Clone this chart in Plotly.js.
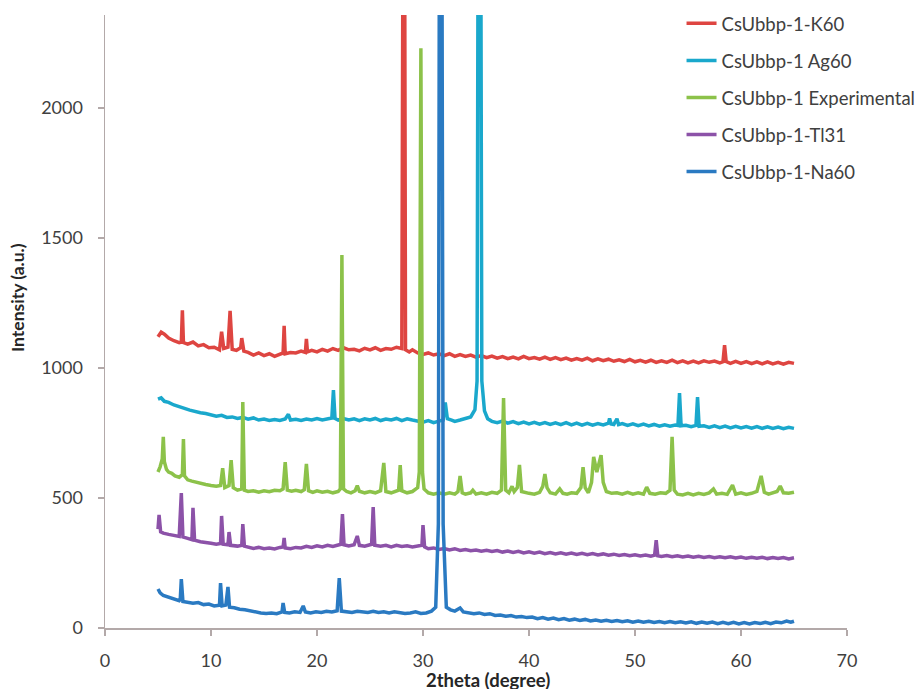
<!DOCTYPE html>
<html>
<head>
<meta charset="utf-8">
<script src="https://cdn.plot.ly/plotly-3.0.1.min.js"></script>
<style>html,body{margin:0;padding:0;background:#fff;}#chart{width:916px;height:689px;}</style>
</head>
<body>
<div id="chart"></div>
<script>
// Series names
const seriesNames = ["CsUbbp-1-K60", "CsUbbp-1 Ag60", "CsUbbp-1 Experimental", "CsUbbp-1-Tl31", "CsUbbp-1-Na60"];

// [2theta, intensity] pairs
const k60 = [[5.0,1120],[5.3,1138],[5.6,1130],[6.0,1115],[6.5,1105],[7.0,1098],[7.2,1100],[7.3,1222],[7.4,1098],[7.8,1092],[8.3,1100],[8.8,1085],[9.3,1090],[9.8,1078],[10.3,1080],[10.8,1070],[11.0,1140],[11.2,1075],[11.6,1080],[11.8,1220],[12.0,1072],[12.4,1068],[12.8,1078],[12.9,1115],[13.1,1065],[13.5,1060],[14.0,1050],[14.5,1058],[15.0,1048],[15.5,1055],[16.0,1045],[16.5,1055],[16.8,1058],[16.9,1162],[17.0,1055],[17.5,1060],[18.0,1058],[18.5,1065],[18.9,1060],[19.0,1112],[19.1,1062],[19.5,1068],[20.0,1062],[20.5,1072],[21.0,1065],[21.5,1075],[22.0,1068],[22.5,1078],[23.0,1070],[23.5,1072],[24.0,1066],[24.5,1076],[25.0,1070],[25.5,1078],[26.0,1068],[26.5,1075],[27.0,1072],[27.5,1080],[28.0,1075],[28.2,4000],[28.35,1070],[28.7,1062],[29.0,1070],[29.5,1058],[30.0,1052],[30.5,1058],[31.0,1050],[31.5,1055],[32.0,1048],[32.5,1055],[33.0,1045],[33.5,1052],[34.0,1045],[34.5,1050],[35.0,1042],[35.5,1048],[36.0,1040],[36.5,1046],[37.0,1038],[37.5,1044],[38.0,1036],[38.5,1042],[39.0,1035],[39.5,1045],[40.0,1036],[40.5,1040],[41.0,1034],[41.5,1042],[42.0,1033],[42.5,1040],[43.0,1032],[43.5,1038],[44.0,1030],[44.5,1036],[45.0,1030],[45.5,1038],[46.0,1028],[46.5,1035],[47.0,1028],[47.5,1034],[48.0,1026],[48.5,1032],[49.0,1025],[49.5,1033],[50.0,1024],[50.5,1030],[51.0,1023],[51.5,1030],[52.0,1022],[52.5,1028],[53.0,1022],[53.5,1030],[54.0,1021],[54.5,1028],[55.0,1020],[55.5,1027],[56.0,1020],[56.5,1028],[57.0,1022],[57.5,1027],[58.0,1020],[58.3,1024],[58.45,1088],[58.6,1025],[59.0,1018],[59.5,1026],[60.0,1018],[60.5,1025],[61.0,1017],[61.5,1024],[62.0,1016],[62.5,1024],[63.0,1016],[63.5,1022],[64.0,1015],[64.5,1022],[65.0,1018]];

const ag60 = [[5.0,880],[5.3,885],[5.6,872],[6.0,868],[6.5,858],[7.0,850],[7.5,845],[8.0,838],[8.5,832],[9.0,828],[9.5,825],[10.0,820],[10.5,815],[11.0,818],[11.5,810],[12.0,812],[12.5,806],[13.0,810],[13.5,803],[14.0,808],[14.5,800],[15.0,804],[15.5,798],[16.0,802],[16.5,798],[17.0,804],[17.3,822],[17.5,800],[18.0,803],[18.5,798],[19.0,804],[19.5,800],[20.0,806],[20.5,800],[21.0,805],[21.4,808],[21.55,915],[21.7,806],[22.0,800],[22.5,806],[23.0,800],[23.5,805],[24.0,798],[24.5,805],[25.0,800],[25.5,806],[26.0,798],[26.5,804],[27.0,800],[27.5,806],[28.0,798],[28.5,805],[29.0,800],[29.5,795],[30.0,792],[30.5,798],[31.0,790],[31.5,796],[31.9,800],[32.1,868],[32.3,805],[32.7,800],[33.0,795],[33.5,800],[34.0,805],[34.5,812],[34.9,840],[35.1,950],[35.27,4000],[35.38,4000],[35.55,950],[35.8,835],[36.1,805],[36.5,795],[37.0,790],[37.5,796],[38.0,788],[38.5,794],[39.0,786],[39.5,792],[40.0,785],[40.5,791],[41.0,784],[41.5,790],[42.0,783],[42.5,789],[43.0,782],[43.5,790],[44.0,781],[44.5,788],[45.0,780],[45.5,787],[46.0,780],[46.5,786],[47.0,781],[47.5,788],[47.6,806],[47.75,785],[48.0,783],[48.3,805],[48.45,782],[48.8,786],[49.3,779],[49.8,785],[50.3,778],[50.8,784],[51.3,777],[51.8,783],[52.3,776],[52.8,782],[53.3,776],[53.8,781],[54.05,779],[54.2,904],[54.35,778],[54.8,780],[55.3,774],[55.75,779],[55.9,888],[56.05,776],[56.5,778],[57.0,772],[57.5,778],[58.0,771],[58.5,777],[59.0,770],[59.5,776],[60.0,770],[60.5,775],[61.0,769],[61.5,775],[62.0,768],[62.5,774],[63.0,768],[63.5,773],[64.0,767],[64.5,772],[65.0,768]];

const experimental = [[5.0,600],[5.2,620],[5.4,650],[5.5,735],[5.6,640],[5.8,610],[6.0,600],[6.3,595],[6.6,585],[7.0,580],[7.3,590],[7.4,727],[7.5,585],[7.8,570],[8.2,565],[8.6,560],[9.0,555],[9.5,552],[10.0,548],[10.5,545],[10.9,548],[11.1,615],[11.3,540],[11.7,548],[11.9,646],[12.1,540],[12.5,530],[12.9,535],[13.0,869],[13.15,530],[13.5,525],[14.0,528],[14.5,522],[15.0,528],[15.5,524],[16.0,530],[16.5,528],[16.8,535],[17.0,638],[17.2,530],[17.6,526],[18.0,530],[18.5,525],[18.8,532],[19.0,631],[19.2,528],[19.6,522],[20.0,528],[20.5,522],[21.0,526],[21.5,520],[22.0,525],[22.2,535],[22.35,1435],[22.5,535],[22.8,525],[23.2,520],[23.6,528],[23.8,548],[24.0,526],[24.5,520],[25.0,525],[25.5,520],[26.0,528],[26.3,635],[26.5,525],[27.0,520],[27.5,525],[27.7,530],[27.85,627],[28.0,528],[28.5,520],[29.0,525],[29.5,540],[29.65,600],[29.8,2230],[29.95,600],[30.1,535],[30.5,520],[31.0,515],[31.5,520],[32.0,515],[32.5,520],[33.0,515],[33.3,525],[33.5,585],[33.7,520],[34.0,515],[34.5,520],[34.7,530],[35.0,515],[35.5,520],[36.0,515],[36.5,522],[37.0,518],[37.4,530],[37.6,885],[37.8,530],[38.1,520],[38.4,545],[38.6,525],[38.9,540],[39.1,627],[39.3,525],[39.7,520],[40.0,518],[40.5,515],[41.0,522],[41.3,545],[41.5,592],[41.7,540],[42.0,520],[42.5,515],[42.9,535],[43.2,518],[43.6,515],[44.0,520],[44.5,518],[44.9,540],[45.1,619],[45.3,540],[45.6,520],[45.9,560],[46.1,658],[46.4,600],[46.8,665],[47.0,560],[47.3,525],[47.8,518],[48.3,520],[48.8,515],[49.3,522],[49.8,515],[50.3,520],[50.8,515],[51.1,542],[51.4,518],[51.9,515],[52.4,520],[52.9,518],[53.3,530],[53.5,735],[53.7,530],[54.0,515],[54.5,512],[55.0,518],[55.5,512],[56.0,518],[56.5,514],[57.0,520],[57.4,535],[57.7,515],[58.2,518],[58.7,514],[59.2,550],[59.5,515],[60.0,520],[60.5,514],[61.0,518],[61.5,525],[61.9,585],[62.2,522],[62.6,515],[63.0,520],[63.4,525],[63.7,546],[64.0,520],[64.5,518],[65.0,522]];

const tl31 = [[5.0,380],[5.1,435],[5.25,370],[5.5,365],[6.0,360],[6.5,355],[7.0,352],[7.2,519],[7.35,350],[7.8,345],[8.2,340],[8.3,462],[8.45,338],[9.0,332],[9.5,330],[10.0,326],[10.5,322],[10.9,325],[11.0,431],[11.15,322],[11.6,320],[11.7,369],[11.85,318],[12.5,315],[12.9,318],[13.0,400],[13.15,315],[13.5,310],[14.0,306],[14.5,310],[15.0,305],[15.5,308],[16.0,304],[16.5,310],[16.8,312],[16.9,346],[17.0,308],[17.5,305],[18.0,310],[18.5,308],[19.0,314],[19.5,310],[20.0,316],[20.5,312],[21.0,318],[21.5,314],[22.0,318],[22.25,322],[22.4,438],[22.55,320],[23.0,316],[23.5,320],[23.8,354],[24.0,318],[24.5,315],[25.0,320],[25.15,322],[25.3,465],[25.45,318],[26.0,315],[26.5,318],[27.0,312],[27.5,318],[28.0,314],[28.5,316],[29.0,312],[29.5,316],[29.9,318],[30.0,396],[30.15,312],[30.5,305],[31.0,308],[31.5,302],[32.0,306],[32.5,300],[33.0,305],[33.5,298],[34.0,302],[34.5,297],[35.0,300],[35.5,295],[36.0,299],[36.5,294],[37.0,298],[37.5,292],[38.0,296],[38.5,291],[39.0,295],[39.5,289],[40.0,293],[40.5,288],[41.0,292],[41.5,286],[42.0,290],[42.5,285],[43.0,289],[43.5,284],[44.0,288],[44.5,283],[45.0,287],[45.5,282],[46.0,286],[46.5,281],[47.0,285],[47.5,280],[48.0,284],[48.5,279],[49.0,283],[49.5,278],[50.0,282],[50.5,277],[51.0,281],[51.5,276],[51.85,280],[52.0,338],[52.15,278],[52.5,275],[53.0,279],[53.5,274],[54.0,278],[54.5,273],[55.0,277],[55.5,272],[56.0,276],[56.5,271],[57.0,275],[57.5,270],[58.0,274],[58.5,270],[59.0,274],[59.5,269],[60.0,273],[60.5,268],[61.0,272],[61.5,268],[62.0,272],[62.5,267],[63.0,271],[63.5,267],[64.0,271],[64.5,266],[65.0,270]];

const na60 = [[5.0,150],[5.2,135],[5.5,125],[6.0,118],[6.5,110],[7.0,105],[7.1,110],[7.2,188],[7.35,102],[7.8,100],[8.3,95],[8.8,98],[9.3,90],[9.8,92],[10.3,85],[10.8,88],[10.9,173],[11.05,85],[11.4,88],[11.6,158],[11.75,80],[12.2,78],[12.7,72],[13.2,70],[13.7,65],[14.2,62],[14.7,58],[15.2,56],[15.7,58],[16.2,55],[16.7,62],[16.8,96],[16.95,60],[17.4,58],[17.9,62],[18.4,60],[18.7,85],[18.9,62],[19.4,58],[19.9,62],[20.4,60],[20.9,64],[21.4,62],[21.9,66],[22.1,192],[22.3,65],[22.8,62],[23.3,60],[23.8,64],[24.3,62],[24.8,60],[25.3,64],[25.8,60],[26.3,62],[26.8,58],[27.3,62],[27.8,60],[28.3,56],[28.8,58],[29.3,62],[29.8,56],[30.3,58],[30.8,65],[31.2,80],[31.45,400],[31.6,4000],[31.72,4000],[31.9,400],[32.2,80],[32.6,70],[33.0,65],[33.5,77],[33.8,62],[34.3,60],[34.8,55],[35.3,58],[35.8,52],[36.3,55],[36.8,48],[37.3,50],[37.8,45],[38.3,48],[38.8,42],[39.3,44],[39.8,40],[40.3,42],[40.8,36],[41.3,40],[41.8,34],[42.3,38],[42.8,32],[43.3,36],[43.8,30],[44.3,34],[44.8,29],[45.3,33],[45.8,27],[46.3,31],[46.8,26],[47.3,30],[47.8,25],[48.3,29],[48.8,24],[49.3,28],[49.8,22],[50.3,27],[50.8,22],[51.3,26],[51.8,21],[52.3,25],[52.8,20],[53.3,25],[53.8,20],[54.3,24],[54.8,19],[55.3,24],[55.8,18],[56.3,23],[56.8,18],[57.3,23],[57.8,17],[58.3,22],[58.8,17],[59.3,22],[59.8,16],[60.3,21],[60.8,16],[61.3,21],[61.8,17],[62.3,22],[62.8,17],[63.3,23],[63.8,20],[64.3,27],[64.7,22],[65.0,26]];

const xTicks = [0, 10, 20, 30, 40, 50, 60, 70];
const yTicks = [0, 500, 1000, 1500, 2000];
const xTitle = "2theta (degree)";
const yTitle = "Intensity (a.u.)";

const colors = ["#de4541", "#1aa8cc", "#8cc24a", "#8c52a8", "#2a7ac2"];
const allSeries = [k60, ag60, experimental, tl31, na60];

const traces = allSeries.map((s, i) => ({
  type: "scatter",
  mode: "lines",
  name: seriesNames[i],
  legendgroup: "g" + i,
  x: s.map(p => p[0]),
  y: s.map(p => p[1]),
  line: {color: colors[i], width: 3.5},
  hoverinfo: "skip"
}));

const axisColor = "#b3a9a9";
const layout = {
  width: 916,
  height: 689,
  margin: {l: 105, r: 69, t: 15, b: 61, autoexpand: false},
  paper_bgcolor: "#ffffff",
  plot_bgcolor: "#ffffff",
  font: {family: "Lato, 'Open Sans', sans-serif", size: 18, color: "#404040"},
  showlegend: true,
  legend: {
    x: 0.777, y: 1.0166, xanchor: "left", yanchor: "top",
    traceorder: "grouped", tracegroupgap: 10,
    font: {family: "Lato, sans-serif", size: 18.5, color: "#404040"},
    bgcolor: "rgba(255,255,255,0)"
  },
  xaxis: {
    range: [0, 70],
    tickvals: xTicks,
    ticktext: xTicks.map(String),
    showgrid: false, zeroline: false,
    showline: true, linecolor: axisColor, linewidth: 1.5,
    ticks: "outside", ticklen: 6, tickcolor: axisColor, tickwidth: 1.5,
    ticklabelstandoff: 10,
    tickfont: {size: 18}
  },
  yaxis: {
    range: [0, 2358],
    tickvals: yTicks,
    ticktext: yTicks.map(String),
    showgrid: false, zeroline: false,
    showline: true, linecolor: axisColor, linewidth: 1.5,
    ticks: "outside", ticklen: 6, tickcolor: axisColor, tickwidth: 1.5,
    ticklabelstandoff: 11,
    tickfont: {size: 18}
  },
  annotations: [
    {xref: "paper", yref: "paper", x: 0.5155, y: -0.0855, xanchor: "center", yanchor: "middle",
     text: "<b>" + xTitle + "</b>", showarrow: false, font: {size: 18.5, color: "#262626"}},
    {xref: "paper", yref: "paper", x: -0.1173, y: 0.540, xanchor: "center", yanchor: "middle",
     text: "<b>" + yTitle + "</b>", textangle: -90, showarrow: false, font: {size: 17.5, color: "#262626"}}
  ]
};

Plotly.newPlot("chart", traces, layout, {displayModeBar: false, staticPlot: true});
</script>
</body>
</html>
